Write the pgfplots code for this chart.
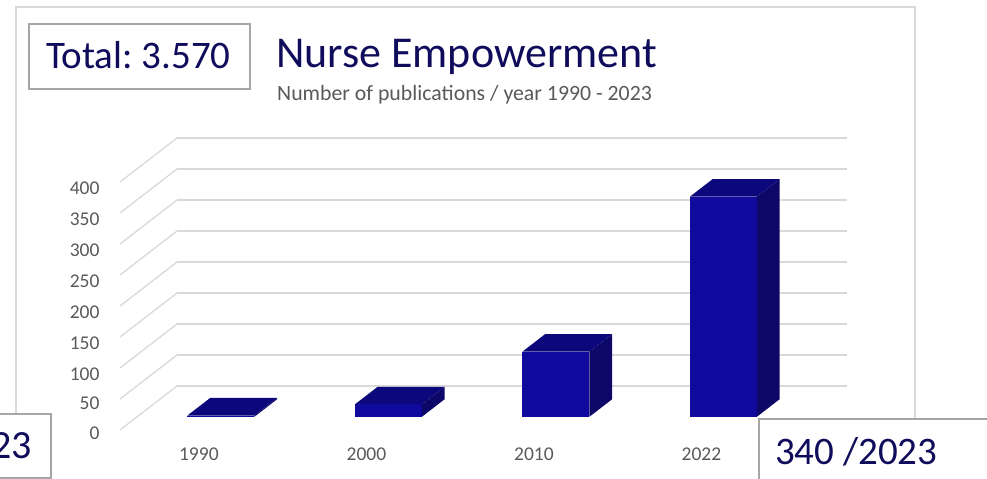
\documentclass[border=0pt]{standalone}
\usepackage{pgfplots}
\pgfplotsset{compat=1.18}
\usepackage{pgfplotstable}
\usepackage{fontspec}
\setmainfont{Carlito}
\frenchspacing

\definecolor{barfront}{RGB}{16,10,158}
\definecolor{barside}{RGB}{13,8,104}
\definecolor{bartop}{RGB}{12,8,124}
\definecolor{gridgray}{RGB}{217,217,217}
\definecolor{labelgray}{RGB}{89,89,89}
\definecolor{navy}{RGB}{16,12,92}
\definecolor{boxgray}{RGB}{166,166,166}

% publications per year
\pgfplotstableread{
idx year pubs
0 1990 2
1 2000 20
2 2010 105
3 2022 355
}\pubtable

\begin{document}
\begin{tikzpicture}
\begin{axis}[
  x={(167.5bp,0bp)}, y={(57bp,44bp)}, z={(0bp,0.62bp)},
  xmin=-0.5, xmax=3.5, ymin=0, ymax=1, zmin=0, zmax=400,
  xtick={0,1,2,3}, xticklabels={1990,2000,2010,2022},
  ytick=\empty,
  ztick={0,50,...,400},
  xmajorgrids=false, ymajorgrids=false, zmajorgrids=true,
  major grid style={draw=gridgray, line width=1.3bp},
  axis line style={draw=none},
  major tick length=0pt,
  tick label style={font=\fontsize{19.5bp}{22bp}\selectfont, text=labelgray},
  xticklabel style={yshift=-14bp},
  zticklabel style={xshift=-17bp},
  /pgf/number format/assume math mode=true,
  clip=false,
]
% one cuboid per year: front, right side and top faces
\pgfplotsinvokeforeach{0,1,2,3}{
  \pgfplotstablegetelem{#1}{pubs}\of\pubtable
  \let\h\pgfplotsretval
  \pgfmathsetmacro\xl{#1-0.2}
  \pgfmathsetmacro\xr{#1+0.2}
  \edef\drawbar{%
    \noexpand\addplot3[draw=none, fill=barfront] coordinates
      {(\xl,0.3,0) (\xr,0.3,0) (\xr,0.3,\h) (\xl,0.3,\h)};
    \noexpand\addplot3[draw=none, fill=barside] coordinates
      {(\xr,0.3,0) (\xr,0.7,0) (\xr,0.7,\h) (\xr,0.3,\h)};
    \noexpand\addplot3[draw=none, fill=bartop] coordinates
      {(\xl,0.3,\h) (\xr,0.3,\h) (\xr,0.7,\h) (\xl,0.7,\h)};
  }%
  \drawbar
}
\coordinate (O) at (axis cs:-0.5,0,0);
\end{axis}

\begin{scope}[shift={(O)}, x=1bp, y=1bp]
  % outer chart frame
  \draw[gridgray, line width=1.3bp] (-104,423) rectangle (795,-80);
  % total box
  \draw[boxgray, line width=1.2bp, fill=white] (-91,406) rectangle (130,341);
  \node[anchor=base west, inner sep=0, text=navy,
        font=\fontsize{39bp}{45bp}\selectfont] at (-74,362) {Total: 3.570};
  % title and subtitle
  \node[anchor=base west, inner sep=0, text=navy,
        font=\fontsize{44bp}{50bp}\selectfont] at (156,363) {Nurse Empowerment};
  \node[anchor=base west, inner sep=0, text=labelgray,
        font=\fontsize{21.8bp}{26bp}\selectfont] at (157,330)
        {Number of publications / year 1990 - 2023};
  % corner boxes
  \draw[boxgray, line width=1.2bp, fill=white] (-140,16) rectangle (-69,-48);
  \node[anchor=base east, inner sep=0, text=navy,
        font=\fontsize{40bp}{46bp}\selectfont] at (-88,-28) {23};
  \draw[boxgray, line width=1.2bp, fill=white] (639,11) rectangle (900,-80);
  \node[anchor=base west, inner sep=0, text=navy,
        font=\fontsize{39bp}{45bp}\selectfont] at (655,-34) {340 /2023};
\end{scope}

\pgfresetboundingbox
\path[use as bounding box] ([shift={(-120bp,430bp)}]O) rectangle ([shift={(867bp,-49bp)}]O);
\end{tikzpicture}
\end{document}
